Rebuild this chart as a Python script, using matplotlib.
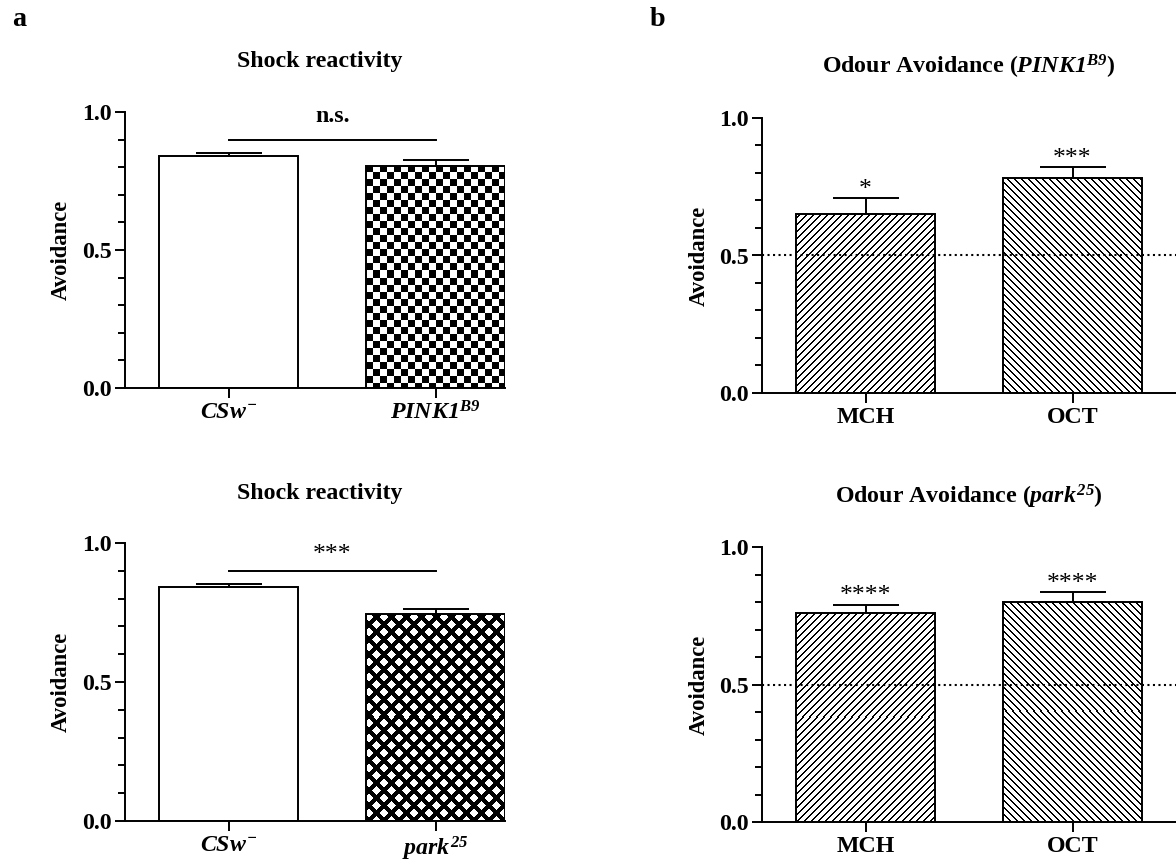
import numpy as np
import matplotlib
matplotlib.use('Agg')
from matplotlib import pyplot as plt
from matplotlib.ticker import MultipleLocator, FormatStrFormatter

# Data
shock_labels_top = [r'$CSw^{-}$', r'$PINK1^{B9}$']
shock_top = [0.84, 0.805]
shock_top_err = [0.013, 0.022]

shock_labels_bot = [r'$CSw^{-}$', r'$park^{25}$']
shock_bot = [0.84, 0.745]
shock_bot_err = [0.011, 0.018]

odours = ['MCH', 'OCT']
odour_top = [0.65, 0.78]
odour_top_err = [0.058, 0.04]
odour_bot = [0.76, 0.80]
odour_bot_err = [0.03, 0.035]

stars_top = ['*', '***']
stars_bot = ['****', '****']
sig_top = 'n.s.'
sig_bot = '***'
sig_line_y = 0.9
chance_level = 0.5

W, H, DPI = 1176, 866, 88
LW = 1.6

plt.rcParams['font.family'] = 'Liberation Serif'
plt.rcParams['font.weight'] = 'bold'
plt.rcParams['mathtext.fontset'] = 'custom'
# every math run in this figure is a bold italic genotype name
plt.rcParams['mathtext.it'] = 'Liberation Serif:italic:bold'
plt.rcParams['mathtext.rm'] = 'Liberation Serif:italic:bold'
plt.rcParams['mathtext.bf'] = 'Liberation Serif:italic:bold'


def rect(left, right, top, bottom):
    # pixel box -> figure fraction
    return [left / W, 1 - bottom / H, (right - left) / W, (bottom - top) / H]


def style_axis(ax, xlim, labels, ylabel, label_x):
    ax.set_xlim(*xlim)
    ax.set_ylim(0, 1.0)
    for side in ['top', 'right']:
        ax.spines[side].set_visible(False)
    for side in ['left', 'bottom']:
        ax.spines[side].set_linewidth(LW)
    ax.set_xticks(range(len(labels)))
    ax.set_xticklabels(labels, fontsize=19.5)
    ax.set_yticks([0, 0.5, 1.0])
    ax.yaxis.set_major_formatter(FormatStrFormatter('%.1f'))
    ax.yaxis.set_minor_locator(MultipleLocator(0.1))
    ax.tick_params(axis='y', which='major', length=8.2, width=LW, labelsize=19.5, pad=3)
    ax.tick_params(axis='y', which='minor', length=6, width=LW)
    ax.tick_params(axis='x', length=8.2, width=LW, pad=3)
    ax.set_ylabel(ylabel, fontsize=18.5, fontweight='bold')
    ax.yaxis.set_label_coords(label_x, 0.5)


def fill_pattern(ax, bar, kind):
    # pixel-exact fill pattern, clipped to the bar
    x0, y0 = bar.get_x(), bar.get_y()
    x1, y1 = x0 + bar.get_width(), y0 + bar.get_height()
    (px0, py0), (px1, py1) = ax.transData.transform([(x0, y0), (x1, y1)])
    nx, ny = int(round(px1 - px0)), int(round(py1 - py0))
    yy, xx = np.mgrid[0:ny, 0:nx]
    if kind == 'checker':
        img = ((xx // 7 + (ny - 1 - yy) // 7) % 2).astype(float)
    elif kind == 'diamond':
        u = (xx + yy) % 15
        v = (xx - yy) % 15
        img = ((u >= 6) & (v >= 6)).astype(float)
    elif kind == 'up':
        img = (((xx - yy) % 7) >= 2).astype(float)
    else:
        img = (((xx + yy) % 7) >= 2).astype(float)
    im = ax.imshow(img, cmap='gray', vmin=0, vmax=1, extent=(x0, x1, y0, y1),
                   origin='lower', interpolation='nearest', aspect='auto', zorder=1)
    im.set_clip_path(bar)


def shock_panel(ax, labels, vals, errs, pattern, sig_text):
    x = np.arange(len(vals))
    style_axis(ax, (-0.5, 1.335), labels, 'Avoidance', -0.14)
    bars = ax.bar(x, vals, width=0.67, facecolor='none', edgecolor='black', linewidth=LW, zorder=2)
    fill_pattern(ax, bars[1], pattern)
    ax.errorbar(x, vals, yerr=[np.zeros(len(errs)), errs], fmt='none', ecolor='black',
                elinewidth=LW, capsize=27, capthick=LW, zorder=3)
    ax.plot([x[0], x[1]], [sig_line_y, sig_line_y], color='black', lw=LW, clip_on=False)
    if sig_text.startswith('*'):
        ax.text(np.mean(x), sig_line_y + 0.035, sig_text, ha='center', va='baseline',
                fontsize=21, fontweight='normal')
    else:
        ax.text(np.mean(x), sig_line_y + 0.045, sig_text, ha='center', va='bottom', fontsize=19.5)
    ax.set_xlim(-0.5, 1.335)
    ax.set_ylim(0, 1.0)


def odour_panel(ax, vals, errs, stars):
    x = np.arange(len(vals))
    style_axis(ax, (-0.5, 1.5), odours, 'Avoidance', -0.125)
    bars = ax.bar(x, vals, width=0.67, facecolor='none', edgecolor='black', linewidth=LW, zorder=2)
    fill_pattern(ax, bars[0], 'up')
    fill_pattern(ax, bars[1], 'down')
    ax.errorbar(x, vals, yerr=[np.zeros(len(errs)), errs], fmt='none', ecolor='black',
                elinewidth=LW, capsize=27, capthick=LW, zorder=3)
    ax.axhline(chance_level, color='black', linestyle=':', linewidth=1.7, zorder=4)
    for xi, v, e, s in zip(x, vals, errs, stars):
        ax.text(xi, v + e + 0.01, s, ha='center', va='baseline', fontsize=21, fontweight='normal')
    ax.set_xlim(-0.5, 1.5)
    ax.set_ylim(0, 1.0)


fig = plt.figure(figsize=(W / DPI, H / DPI), dpi=DPI)

ax_tl = fig.add_axes(rect(125, 505, 112, 388))
ax_bl = fig.add_axes(rect(125, 505, 543, 821))
ax_tr = fig.add_axes(rect(762, 1176, 118, 393))
ax_br = fig.add_axes(rect(762, 1176, 547, 822))

shock_panel(ax_tl, shock_labels_top, shock_top, shock_top_err, 'checker', sig_top)
shock_panel(ax_bl, shock_labels_bot, shock_bot, shock_bot_err, 'diamond', sig_bot)
odour_panel(ax_tr, odour_top, odour_top_err, stars_top)
odour_panel(ax_br, odour_bot, odour_bot_err, stars_bot)

# Titles and panel letters
fig.text(320 / W, 1 - 62 / H, 'Shock reactivity', ha='center', va='center', fontsize=19.5)
fig.text(320 / W, 1 - 493 / H, 'Shock reactivity', ha='center', va='center', fontsize=19.5)
fig.text(969 / W, 1 - 67 / H, r'Odour Avoidance ($PINK1^{B9}$)', ha='center', va='center', fontsize=19.5)
fig.text(969 / W, 1 - 497 / H, r'Odour Avoidance ($park^{25}$)', ha='center', va='center', fontsize=19.5)
fig.text(12 / W, 1 - 20 / H, 'a', ha='left', va='center', fontsize=23)
fig.text(650 / W, 1 - 20 / H, 'b', ha='left', va='center', fontsize=23)

fig.savefig('out.png', dpi=DPI)
